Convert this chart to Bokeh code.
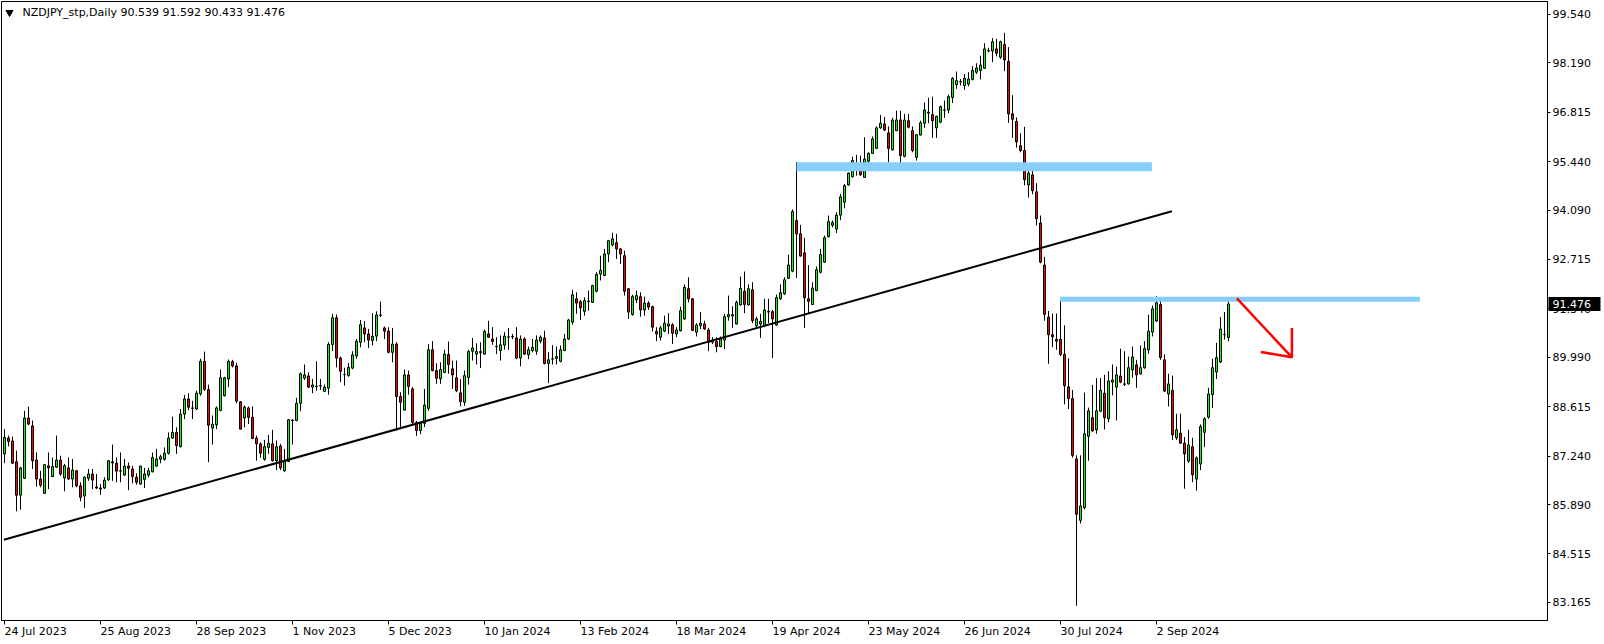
import pandas as pd
from bokeh.plotting import figure
from bokeh.models import Range1d, FixedTicker, PrintfTickFormatter, Label, ColumnDataSource
from bokeh.core.properties import value
from bokeh.embed import file_html
from bokeh.resources import INLINE

symbol = "NZDJPY_stp,Daily"

opens = [
    87.30, 87.74, 87.66, 87.08, 86.15, 86.62, 88.30, 88.08, 87.13, 86.60,
    86.20, 86.97, 86.67, 86.93, 87.13, 86.63, 86.91, 86.60, 86.83, 86.41,
    86.13, 86.62, 86.74, 86.38, 86.35, 86.35, 86.58, 87.08, 87.04, 86.83,
    86.71, 86.96, 86.88, 86.65, 86.46, 86.59, 86.71, 86.80, 86.96, 87.15,
    87.15, 87.32, 87.74, 87.90, 87.50, 88.41, 88.83, 88.58, 88.55, 88.97,
    89.88, 89.09, 88.02, 88.11, 88.51, 88.92, 89.39, 89.87, 89.75, 88.75,
    88.30, 88.58, 88.32, 87.74, 87.58, 87.15, 87.48, 87.58, 87.11, 87.52,
    86.83, 87.09, 88.24, 88.23, 88.71, 89.41, 89.47, 89.16, 89.19, 89.20,
    89.04, 89.13, 90.35, 91.09, 89.97, 89.51, 89.48, 89.69, 90.03, 90.41,
    90.81, 90.64, 90.46, 90.58, 91.17, 90.81, 90.72, 90.13, 90.36, 88.90,
    88.52, 89.50, 89.11, 88.18, 87.95, 88.15, 88.57, 90.20, 89.62, 89.39,
    89.57, 90.07, 89.67, 89.42, 89.00, 88.74, 89.43, 90.16, 90.08, 90.15,
    90.08, 90.64, 90.50, 90.30, 90.18, 90.33, 90.55, 90.57, 90.53, 89.97,
    90.50, 90.06, 90.18, 90.16, 90.44, 90.53, 89.82, 89.94, 89.96, 89.88,
    90.18, 90.50, 90.97, 91.62, 91.54, 91.27, 91.54, 91.52, 91.83, 92.31,
    92.27, 92.87, 93.12, 93.18, 93.01, 92.82, 91.90, 91.18, 91.59, 91.68,
    91.31, 91.50, 91.40, 90.71, 90.55, 90.72, 90.86, 90.90, 90.64, 90.73,
    91.06, 91.90, 91.62, 90.69, 90.87, 90.92, 90.75, 90.41, 90.43, 90.29,
    90.47, 91.12, 91.14, 90.92, 91.45, 91.83, 91.45, 91.87, 90.87, 90.92,
    90.87, 91.27, 91.26, 90.89, 91.62, 91.76, 92.19, 92.39, 93.80, 93.43,
    92.90, 91.62, 91.46, 91.85, 92.36, 92.64, 93.35, 93.67, 93.56, 93.95,
    94.31, 94.79, 95.02, 95.28, 95.36, 95.00, 95.45, 95.67, 95.81, 96.38,
    96.49, 96.24, 95.77, 96.30, 96.60, 95.59, 96.58, 96.30, 95.56, 96.18,
    96.51, 96.79, 96.75, 96.38, 96.54, 96.88, 96.88, 97.23, 97.58, 97.67,
    97.56, 97.60, 97.73, 97.93, 97.98, 98.04, 98.53, 98.52, 98.58, 98.35,
    98.70, 98.23, 96.77, 96.56, 95.88, 95.75, 94.79, 95.07, 94.60, 93.73,
    92.56, 91.11, 90.62, 90.49, 90.49, 90.07, 89.17, 88.84, 87.16, 85.45,
    85.80, 87.79, 88.31, 87.97, 88.49, 88.99, 88.28, 89.30, 89.16, 89.47,
    89.25, 89.25, 89.64, 89.78, 89.53, 89.70, 90.20, 90.69, 91.00, 91.46,
    89.92, 88.97, 89.07, 87.75, 87.88, 87.60, 87.10, 87.50, 86.60, 87.02,
    87.90, 88.32, 88.95, 89.58, 89.86, 90.62, 90.539,
]
highs = [
    87.99, 87.81, 87.78, 87.39, 86.94, 88.50, 88.62, 88.23, 87.34, 86.83,
    87.02, 87.34, 87.20, 87.81, 87.25, 87.02, 87.20, 87.16, 86.85, 86.51,
    86.67, 86.88, 86.88, 86.74, 86.46, 86.65, 87.13, 87.56, 87.20, 87.34,
    87.16, 87.06, 86.97, 86.76, 86.97, 86.91, 86.91, 87.34, 87.44, 87.28,
    87.48, 87.90, 88.34, 88.04, 88.55, 88.94, 88.99, 88.78, 89.06, 89.95,
    90.15, 89.23, 88.37, 88.62, 89.65, 89.45, 89.93, 89.92, 89.84, 88.77,
    88.65, 88.62, 88.62, 87.81, 87.62, 87.69, 87.83, 87.97, 87.67, 87.58,
    87.44, 88.27, 88.27, 88.86, 89.57, 89.79, 89.57, 89.39, 89.88, 89.39,
    89.23, 90.41, 91.20, 91.18, 90.01, 89.70, 89.83, 90.16, 90.50, 91.03,
    91.00, 90.78, 91.22, 91.27, 91.54, 90.85, 90.83, 90.81, 90.41, 89.02,
    89.65, 89.62, 89.16, 88.22, 88.20, 89.11, 90.36, 90.44, 89.82, 89.85,
    90.20, 90.43, 89.90, 89.90, 89.39, 89.62, 90.20, 90.53, 90.38, 90.41,
    90.76, 91.01, 90.83, 90.55, 90.60, 90.69, 90.81, 90.64, 90.83, 90.60,
    90.55, 90.29, 90.50, 90.60, 90.60, 90.73, 90.13, 90.33, 90.29, 90.32,
    90.64, 91.06, 91.87, 91.80, 91.59, 91.66, 91.85, 92.01, 92.36, 92.82,
    93.01, 93.26, 93.46, 93.43, 93.03, 92.96, 91.91, 91.73, 91.85, 91.80,
    91.68, 91.55, 91.43, 90.83, 90.87, 91.15, 91.22, 90.94, 90.83, 91.40,
    92.02, 92.22, 91.64, 90.94, 91.25, 91.01, 90.81, 90.55, 90.55, 90.57,
    91.20, 91.71, 91.41, 91.57, 92.24, 92.38, 92.02, 92.08, 91.12, 91.20,
    91.62, 91.62, 91.31, 91.74, 92.02, 92.22, 92.85, 94.11, 95.43, 93.68,
    93.32, 92.56, 92.08, 92.52, 93.01, 93.38, 93.94, 93.80, 94.03, 94.54,
    94.82, 95.14, 95.58, 95.63, 95.61, 96.12, 95.70, 96.14, 96.42, 96.74,
    96.68, 96.42, 96.66, 96.86, 96.86, 96.77, 96.77, 96.42, 96.21, 96.58,
    97.09, 97.22, 97.25, 96.72, 97.00, 97.14, 97.31, 97.79, 97.95, 97.74,
    97.88, 97.93, 98.10, 98.18, 98.39, 98.74, 98.61, 98.88, 98.86, 98.81,
    99.03, 98.63, 97.29, 96.67, 96.23, 96.41, 95.28, 95.18, 94.84, 93.94,
    92.79, 91.28, 91.21, 91.21, 91.60, 90.88, 89.96, 89.08, 87.26, 87.26,
    89.01, 88.59, 89.22, 89.41, 89.41, 89.50, 89.60, 89.79, 89.73, 90.23,
    90.16, 90.01, 90.29, 89.92, 90.32, 90.44, 91.18, 91.43, 91.69, 91.62,
    90.07, 89.53, 89.48, 88.42, 88.42, 87.77, 87.97, 87.75, 87.23, 88.12,
    88.32, 89.14, 89.95, 90.39, 91.11, 91.25, 91.592,
]
lows = [
    87.04, 87.51, 87.02, 85.70, 85.75, 86.60, 88.10, 86.88, 86.39, 86.37,
    86.18, 86.32, 86.65, 86.91, 86.69, 86.26, 86.57, 86.37, 86.37, 85.98,
    85.79, 86.55, 86.32, 86.32, 86.16, 86.32, 86.55, 86.55, 86.51, 86.51,
    86.69, 86.29, 86.48, 86.44, 86.44, 86.35, 86.65, 86.79, 86.94, 87.04,
    87.11, 87.28, 87.72, 87.30, 87.48, 88.27, 88.52, 88.27, 88.52, 88.92,
    89.05, 87.07, 87.56, 87.99, 88.49, 88.90, 89.16, 89.71, 88.71, 87.99,
    88.04, 88.13, 87.71, 87.11, 87.19, 87.11, 87.30, 87.09, 86.85, 86.85,
    86.80, 87.07, 87.56, 88.21, 88.49, 89.36, 89.14, 88.99, 89.06, 89.08,
    89.02, 88.95, 90.16, 89.71, 89.30, 89.20, 89.45, 89.66, 89.95, 90.27,
    90.41, 90.25, 90.32, 90.44, 91.11, 90.50, 90.10, 89.85, 87.95, 87.99,
    88.51, 88.95, 88.13, 87.80, 87.85, 88.05, 88.50, 89.60, 89.25, 89.25,
    89.55, 89.53, 89.11, 89.02, 88.63, 88.64, 89.23, 89.90, 89.79, 89.69,
    90.07, 90.53, 90.34, 90.08, 89.90, 90.20, 90.20, 90.50, 89.94, 89.74,
    90.06, 89.94, 90.13, 90.06, 90.38, 89.79, 89.27, 89.79, 89.79, 89.85,
    90.16, 90.47, 90.90, 91.20, 91.03, 91.15, 91.29, 91.51, 91.80, 92.13,
    92.25, 92.64, 93.08, 92.73, 92.59, 91.71, 91.06, 91.15, 91.50, 91.12,
    91.15, 91.31, 90.71, 90.44, 90.46, 90.69, 90.64, 90.36, 90.55, 90.71,
    91.03, 91.52, 90.72, 90.57, 90.78, 90.75, 90.16, 90.36, 90.13, 90.27,
    90.22, 91.01, 90.81, 90.90, 91.43, 91.22, 91.43, 90.94, 90.78, 90.53,
    90.83, 90.94, 89.97, 90.87, 91.59, 91.73, 92.17, 92.36, 92.20, 92.80,
    90.81, 91.20, 91.45, 91.83, 92.33, 92.62, 93.33, 93.61, 93.45, 93.81,
    94.14, 94.77, 95.00, 95.05, 95.05, 94.99, 95.39, 95.65, 95.79, 96.35,
    96.29, 95.42, 95.75, 96.29, 95.25, 95.56, 96.37, 95.70, 95.47, 96.17,
    96.38, 96.51, 96.10, 96.10, 96.51, 96.66, 96.79, 97.07, 97.47, 97.56,
    97.44, 97.54, 97.70, 97.88, 97.73, 98.02, 98.49, 98.21, 98.37, 98.30,
    97.96, 96.52, 96.10, 95.83, 95.70, 94.78, 94.44, 94.53, 93.66, 92.61,
    91.01, 89.81, 90.27, 90.20, 90.02, 88.68, 88.55, 87.20, 83.07, 85.36,
    85.76, 87.11, 87.92, 87.86, 88.47, 87.98, 88.18, 88.93, 88.23, 89.27,
    89.19, 89.23, 89.42, 89.14, 89.51, 89.67, 90.09, 90.57, 90.97, 89.92,
    89.02, 88.62, 87.69, 87.69, 87.58, 86.33, 87.05, 86.51, 86.28, 86.85,
    87.49, 88.28, 88.58, 89.39, 89.83, 90.48, 90.433,
]
closes = [
    87.76, 87.65, 87.04, 86.15, 86.91, 88.30, 88.13, 87.11, 86.60, 86.43,
    87.00, 86.91, 86.95, 87.13, 86.74, 86.97, 86.60, 86.85, 86.41, 86.09,
    86.65, 86.74, 86.57, 86.35, 86.32, 86.57, 87.11, 87.05, 86.82, 86.82,
    86.96, 86.90, 86.67, 86.51, 86.96, 86.74, 86.83, 87.20, 87.16, 87.22,
    87.32, 87.74, 87.90, 87.53, 88.41, 88.83, 88.60, 88.57, 88.99, 89.88,
    89.10, 88.10, 88.13, 88.58, 89.42, 89.42, 89.88, 89.75, 88.77, 87.99,
    88.60, 88.32, 87.73, 87.58, 87.32, 87.50, 87.60, 87.11, 87.50, 86.91,
    87.09, 88.25, 88.23, 88.71, 89.53, 89.50, 89.16, 89.22, 89.18, 89.19,
    89.16, 90.35, 91.09, 89.97, 89.60, 89.51, 89.71, 90.06, 90.44, 90.90,
    90.64, 90.47, 90.58, 91.17, 91.16, 90.72, 90.13, 90.36, 88.90, 88.74,
    89.50, 89.18, 88.18, 87.95, 88.15, 88.66, 90.20, 89.62, 89.41, 89.65,
    90.08, 89.79, 89.50, 89.06, 88.76, 89.48, 90.15, 90.25, 90.15, 90.12,
    90.71, 90.55, 90.43, 90.29, 90.34, 90.58, 90.56, 90.56, 89.97, 90.50,
    90.08, 90.20, 90.27, 90.47, 90.55, 89.82, 89.92, 89.95, 90.01, 90.20,
    90.50, 91.03, 91.73, 91.50, 91.37, 91.57, 91.56, 91.99, 92.30, 92.41,
    92.87, 93.24, 93.29, 93.01, 92.87, 91.83, 91.25, 91.68, 91.71, 91.31,
    91.50, 91.39, 90.83, 90.64, 90.81, 90.94, 90.92, 90.66, 90.75, 91.29,
    91.94, 91.62, 90.74, 90.89, 90.94, 90.78, 90.41, 90.47, 90.29, 90.50,
    91.12, 91.18, 91.18, 91.52, 91.91, 91.46, 91.90, 91.01, 91.06, 90.99,
    91.31, 91.25, 91.06, 91.65, 91.79, 92.15, 92.56, 94.05, 93.43, 92.81,
    91.65, 91.55, 91.92, 92.43, 92.85, 93.32, 93.77, 93.74, 93.95, 94.46,
    94.77, 95.12, 95.47, 95.38, 95.07, 95.51, 95.67, 96.07, 96.38, 96.51,
    96.32, 95.81, 96.60, 96.60, 95.61, 96.60, 96.40, 95.75, 96.19, 96.52,
    96.88, 96.82, 96.58, 96.70, 96.97, 96.87, 97.25, 97.76, 97.70, 97.66,
    97.76, 97.74, 97.98, 98.05, 98.13, 98.58, 98.52, 98.78, 98.46, 98.78,
    98.27, 96.77, 96.62, 95.99, 95.75, 94.94, 95.12, 94.63, 93.85, 92.64,
    91.19, 90.62, 90.56, 90.44, 90.07, 89.20, 88.84, 87.26, 85.62, 85.85,
    87.86, 88.50, 87.94, 88.50, 89.07, 88.31, 89.33, 89.36, 89.50, 89.30,
    89.24, 89.70, 90.00, 89.50, 89.70, 90.23, 90.72, 91.34, 91.51, 89.98,
    89.05, 89.25, 87.83, 87.97, 87.60, 87.30, 87.55, 86.72, 87.19, 88.06,
    88.28, 88.97, 89.70, 89.98, 90.78, 90.63, 91.476,
]

holidays = ["2023-12-25", "2024-01-01"]
date_labels = ["24 Jul 2023", "25 Aug 2023", "28 Sep 2023", "1 Nov 2023", "5 Dec 2023",
               "10 Jan 2024", "13 Feb 2024", "18 Mar 2024", "19 Apr 2024", "23 May 2024",
               "26 Jun 2024", "30 Jul 2024", "2 Sep 2024"]
price_ticks = [99.540, 98.190, 96.815, 95.440, 94.090, 92.715, 91.340,
               89.990, 88.615, 87.240, 85.890, 84.515, 83.165]

# drawn objects (bar index, price)
trend_x = [-0.15, 291.85]
trend_y = [84.91, 94.06]
zone_left = [198.0, 263.9]
zone_right = [286.85, 353.85]
zone_top = [95.42, 91.68]
zone_bottom = [95.17, 91.54]
arrow_shaft_x = [308.1, 321.85]
arrow_shaft_y = [91.63, 89.99]
arrow_head_x = [321.85, 321.85, 314.1]
arrow_head_y = [90.81, 89.99, 90.14]

FONT = "DejaVu Sans"
FS = "11px"
BULL = "#00ff00"
BEAR = "#ff0000"
ZONE = "#87cefa"

n = len(opens)
dates = [d for d in pd.bdate_range("2023-07-24", periods=n + len(holidays))
         if d.strftime("%Y-%m-%d") not in holidays][:n]
names = [f"{d.day} {d.strftime('%b %Y')}" for d in dates]
tick_idx = [names.index(s) for s in date_labels]

src = ColumnDataSource(dict(
    x=list(range(n)), open=opens, high=highs, low=lows, close=closes,
    top=[max(o, c) for o, c in zip(opens, closes)],
    bottom=[min(o, c) for o, c in zip(opens, closes)],
    color=[BULL if c >= o else BEAR for o, c in zip(opens, closes)],
))

FW, FH = 1546, 619          # frame size in px
PXB = 4.0                   # px per bar
X0 = -0.75
X1 = X0 + FW / PXB
Y0, Y1 = 82.66, 99.90

p = figure(frame_width=FW, frame_height=FH, output_backend="svg", toolbar_location=None,
           x_range=Range1d(X0, X1), y_range=Range1d(Y0, Y1),
           y_axis_location="right",
           min_border_left=1, min_border_top=1, min_border_right=56, min_border_bottom=23,
           background_fill_color="white", border_fill_color="white")
p.xgrid.visible = False
p.ygrid.visible = False
p.outline_line_color = "black"
p.outline_line_width = 1
p.outline_line_alpha = 1.0

ya = p.yaxis[0]
ya.ticker = FixedTicker(ticks=price_ticks)
ya.formatter = PrintfTickFormatter(format="%.3f")
ya.major_tick_in = 0
ya.major_tick_out = 3
ya.minor_tick_line_color = None
ya.axis_line_color = "black"
ya.major_tick_line_color = "black"
ya.major_label_standoff = 2
ya.major_label_text_font = FONT
ya.major_label_text_font_size = FS
ya.major_label_text_color = "black"

xa = p.xaxis[0]
xa.ticker = FixedTicker(ticks=tick_idx)
xa.major_label_overrides = {i: "" for i in tick_idx}
xa.major_label_text_font_size = "0px"
xa.major_label_standoff = 0
xa.major_tick_in = 0
xa.major_tick_out = 4
xa.minor_tick_line_color = None
xa.axis_line_color = "black"
xa.major_tick_line_color = "black"

# candles
p.segment(x0="x", y0="high", x1="x", y1="low", source=src, line_color="black", line_width=1)
p.vbar(x="x", width=2.0 / PXB, top="top", bottom="bottom", source=src,
       fill_color="color", line_color="black", line_width=1)

# objects
p.quad(left=zone_left, right=zone_right, top=zone_top, bottom=zone_bottom,
       fill_color=ZONE, line_color=None)
p.line(trend_x, trend_y, line_color="black", line_width=2)
p.line(arrow_shaft_x, arrow_shaft_y, line_color=BEAR, line_width=2.5)
p.line(arrow_head_x, arrow_head_y, line_color=BEAR, line_width=2.5)

# header
p.scatter(x=[X0 + 8 / PXB], y=[Y1 - 11 * (Y1 - Y0) / FH], marker="inverted_triangle",
          size=7, color="black")
title = f"{symbol}  {opens[-1]:.3f} {highs[-1]:.3f} {lows[-1]:.3f} {closes[-1]:.3f}"
p.add_layout(Label(x=X0 + 21 / PXB, y=Y1, y_offset=-11, text=title, text_font=FONT,
                   text_font_size=FS, text_color="black", text_baseline="middle",
                   text_align="left"))

# date labels below the frame (glyphs at overlay level, so not clipped to the frame)
p.text(x=tick_idx, y=[Y0] * len(tick_idx), text=date_labels, y_offset=11,
       text_font=value(FONT), text_font_size=FS, text_color="black",
       text_baseline="middle", text_align="left", level="overlay")

# current price box on the price scale
box_w = 52
p.rect(x=[X1 + (1 + box_w / 2) / PXB], y=[closes[-1]], width=box_w, height=14,
       width_units="screen", height_units="screen", fill_color="black",
       line_color=None, level="overlay")
p.text(x=[X1], y=[closes[-1]], text=[f"{closes[-1]:.3f}"], x_offset=5,
       text_font=value(FONT), text_font_size=FS, text_color="white",
       text_baseline="middle", text_align="left", level="overlay")

open("out.html", "w").write(file_html(p, INLINE))
